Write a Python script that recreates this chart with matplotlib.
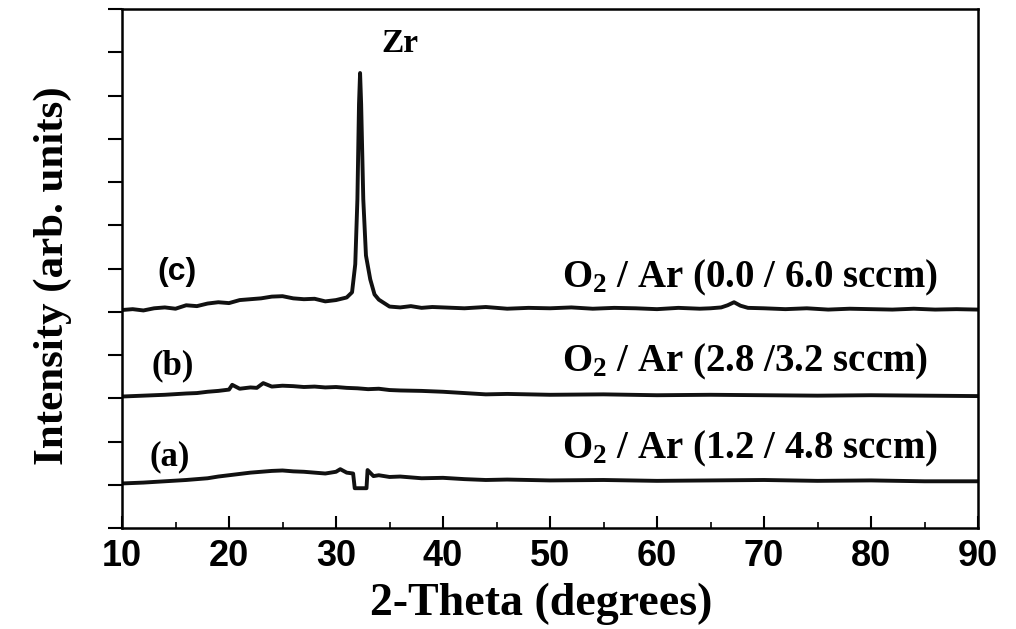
import numpy as np
import matplotlib
matplotlib.use("Agg")
import matplotlib.pyplot as plt
from matplotlib.ticker import MultipleLocator

plt.rcParams['mathtext.fontset'] = 'custom'
plt.rcParams['mathtext.rm'] = 'Liberation Serif:bold'
plt.rcParams['mathtext.default'] = 'rm'

# (c) O2/Ar 0.0/6.0 sccm - Zr peak near 32.2 deg
theta_c = [10, 11, 12, 13, 14, 15, 16, 17, 18, 19, 20, 21, 22, 23, 24, 25, 26, 27, 28, 29, 30, 31,
           31.5, 31.8, 32.0, 32.15, 32.25, 32.35, 32.55, 32.8, 33.2, 33.6, 34, 35, 36, 37, 38, 39,
           40, 42, 44, 46, 48, 50, 52, 54, 56, 58, 60, 62, 64, 65, 66, 66.6, 67.2, 67.8, 68.5, 70,
           72, 74, 76, 78, 80, 82, 84, 86, 88, 90]
int_c = [5.04, 5.06, 5.03, 5.08, 5.10, 5.07, 5.15, 5.13, 5.19, 5.22, 5.20, 5.27, 5.29, 5.31, 5.35,
         5.36, 5.31, 5.29, 5.30, 5.24, 5.27, 5.33,
         5.45, 6.1, 7.6, 9.8, 10.52, 9.8, 7.6, 6.3, 5.75, 5.40, 5.28, 5.12, 5.10, 5.13, 5.09, 5.11,
         5.10, 5.08, 5.11, 5.07, 5.09, 5.08, 5.10, 5.07, 5.09, 5.08, 5.06, 5.09, 5.07, 5.08, 5.10,
         5.15, 5.22, 5.14, 5.09, 5.08, 5.06, 5.08, 5.05, 5.07, 5.06, 5.05, 5.07, 5.05, 5.06, 5.05]

# (b) O2/Ar 2.8/3.2 sccm
theta_b = [10, 12, 14, 16, 17, 18, 19, 20, 20.3, 21, 22, 22.6, 23.2, 24, 25, 26, 27, 28, 29, 30,
           31, 32, 33, 34, 35, 36, 38, 40, 42, 44, 46, 50, 55, 60, 65, 70, 75, 80, 85, 90]
int_b = [3.04, 3.06, 3.08, 3.11, 3.12, 3.15, 3.17, 3.20, 3.31, 3.22, 3.25, 3.24, 3.35, 3.27, 3.29,
         3.28, 3.26, 3.27, 3.25, 3.26, 3.24, 3.23, 3.21, 3.22, 3.19, 3.18, 3.17, 3.15, 3.12, 3.09,
         3.10, 3.08, 3.09, 3.07, 3.08, 3.07, 3.06, 3.07, 3.06, 3.05]

# (a) O2/Ar 1.2/4.8 sccm - step artefact near 32 deg
theta_a = [10, 12, 14, 16, 17, 18, 19, 20, 21, 22, 23, 24, 25, 26, 27, 28, 29, 30, 30.4, 31,
           31.6, 31.75, 32.85, 32.95, 33.5, 34, 35, 36, 38, 40, 42, 44, 46, 50, 55, 60, 65, 70,
           75, 80, 85, 90]
int_a = [1.03, 1.05, 1.08, 1.11, 1.13, 1.15, 1.19, 1.22, 1.25, 1.28, 1.30, 1.32, 1.33, 1.31, 1.30,
         1.28, 1.26, 1.30, 1.36, 1.28, 1.26, 0.92, 0.92, 1.34, 1.20, 1.22, 1.18, 1.19, 1.15, 1.16,
         1.13, 1.11, 1.12, 1.10, 1.11, 1.09, 1.10, 1.11, 1.09, 1.10, 1.08, 1.08]

curve_labels = ['(a)', '(b)', '(c)']
gas_labels = ['O$_2$ / Ar (1.2 / 4.8 sccm)', 'O$_2$ / Ar (2.8 /3.2 sccm)',
              'O$_2$ / Ar (0.0 / 6.0 sccm)']

fig = plt.figure(figsize=(10.16, 6.29), dpi=100)
ax = fig.add_axes([122 / 1016, 1 - 528 / 629, 856 / 1016, 519 / 629])

for th, y in [(theta_a, int_a), (theta_b, int_b), (theta_c, int_c)]:
    ax.plot(th, y, color='#111111', lw=2.8)

ax.set_xlim(10, 90)
ax.set_ylim(0, 12)
ax.xaxis.set_major_locator(MultipleLocator(10))
ax.xaxis.set_minor_locator(MultipleLocator(5))
ax.yaxis.set_major_locator(MultipleLocator(1))
ax.tick_params(axis='x', which='major', direction='in', length=9, width=1.5, pad=8,
               labelsize=26)
ax.tick_params(axis='x', which='minor', direction='in', length=4, width=1.2)
ax.tick_params(axis='y', which='major', direction='out', length=10, width=1.5,
               labelleft=False)
for lab in ax.get_xticklabels():
    lab.set_family('Liberation Sans')
    lab.set_fontweight('bold')
for s in ax.spines.values():
    s.set_linewidth(1.8)

ax.set_xlabel('2-Theta (degrees)', family='Liberation Serif', fontweight='bold', fontsize=33)
ax.xaxis.set_label_coords(0.49, -0.106)
ax.set_ylabel('Intensity (arb. units)', family='Liberation Serif', fontweight='bold',
              fontsize=31)
ax.yaxis.set_label_coords(-0.058, 0.487)

serif = dict(family='Liberation Serif', fontweight='bold')
ax.text(36.0, 11.0, 'Zr', fontsize=24, ha='center', va='baseline', **serif)
ax.text(14.5, 1.64, curve_labels[0], fontsize=25, ha='center', va='center', **serif)
ax.text(14.7, 3.75, curve_labels[1], fontsize=25, ha='center', va='center', **serif)
ax.text(15.1, 5.92, curve_labels[2], fontsize=23, ha='center', va='center',
        family='Liberation Sans', fontweight='bold')
for yb, lab in zip([1.62, 3.61, 5.57], gas_labels):
    ax.text(51.1, yb, lab, fontsize=28, ha='left', va='baseline', **serif)

fig.savefig('out.png', dpi=100)
